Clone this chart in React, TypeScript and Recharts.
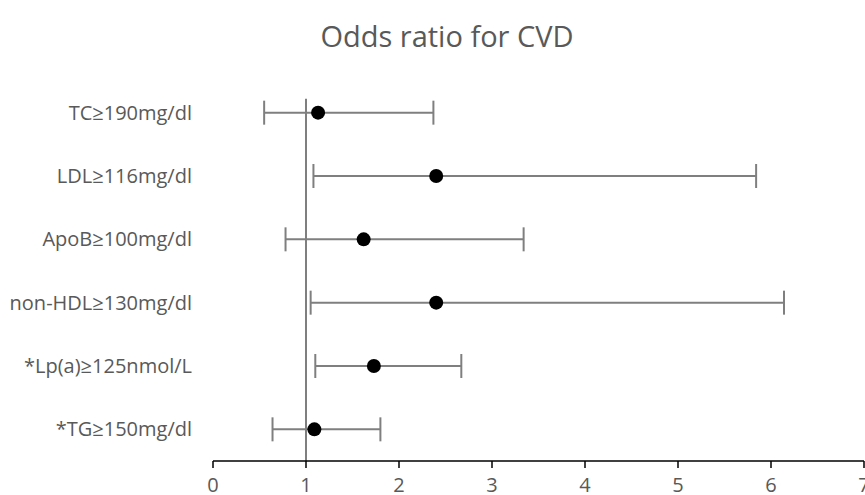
import React from 'react';
import { ScatterChart, Scatter, XAxis, YAxis, ErrorBar, ReferenceLine } from 'recharts';

const categories = [
  'TC≥190mg/dl',
  'LDL≥116mg/dl',
  'ApoB≥100mg/dl',
  'non-HDL≥130mg/dl',
  '*Lp(a)≥125nmol/L',
  '*TG≥150mg/dl',
];
const oddsRatio = [1.13, 2.4, 1.62, 2.4, 1.73, 1.09];
const lowerCI = [0.55, 1.08, 0.78, 1.05, 1.1, 0.64];
const upperCI = [2.37, 5.84, 3.34, 6.14, 2.67, 1.8];
const xTicks = [0, 1, 2, 3, 4, 5, 6, 7];

const n = categories.length;
const data = categories.map((c, i) => ({
  name: c,
  x: oddsRatio[i],
  y: n - i - 0.5,
  err: [oddsRatio[i] - lowerCI[i], upperCI[i] - oddsRatio[i]],
}));
const yTicks = data.map((d) => d.y);
const labelFor = (v: number) => {
  const d = data.find((e) => Math.abs(e.y - v) < 1e-6);
  return d ? d.name : '';
};

const FONT = '"Open Sans", sans-serif';
const TEXT = '#595959';

const Dot = (props: any) => {
  const { cx, cy } = props;
  if (cx == null || cy == null) return null;
  return <circle cx={cx} cy={cy} r={7} fill="#000" />;
};

export default function App() {
  return (
    <div style={{ position: 'absolute', left: 0, top: 0, width: 865, height: 495, background: '#fff', fontFamily: FONT }}>
      <div
        style={{
          position: 'absolute',
          left: 0,
          width: 894,
          top: 16,
          lineHeight: '40px',
          textAlign: 'center',
          fontSize: 29,
          color: TEXT,
          fontFamily: FONT,
        }}
      >
        Odds ratio for CVD
      </div>
      <ScatterChart width={865} height={495} margin={{ top: 81, right: 1, bottom: 0, left: 0 }}>
        <XAxis
          type="number"
          dataKey="x"
          domain={[0, 7]}
          ticks={xTicks}
          interval={0}
          allowDataOverflow
          height={34}
          axisLine={{ stroke: '#000', strokeWidth: 1.5 }}
          tickLine={{ stroke: '#000', strokeWidth: 1.5 }}
          tickSize={7}
          tickMargin={10}
          tick={{ fill: TEXT, fontSize: 20, fontFamily: FONT }}
        />
        <YAxis
          type="number"
          dataKey="y"
          domain={[0, 6]}
          ticks={yTicks}
          interval={0}
          width={213}
          axisLine={false}
          tickLine={false}
          tickSize={0}
          tickMargin={21}
          tickFormatter={labelFor}
          tick={{ fill: TEXT, fontSize: 20, fontFamily: FONT }}
        />
        <ReferenceLine
          segment={[
            { x: 1, y: 0 },
            { x: 1, y: 5.72 },
          ]}
          stroke="#7f7f7f"
          strokeWidth={2}
          ifOverflow="visible"
        />
        <Scatter data={data} isAnimationActive={false} shape={<Dot />}>
          <ErrorBar dataKey="err" direction="x" width={12} stroke="#7f7f7f" strokeWidth={2} />
        </Scatter>
      </ScatterChart>
    </div>
  );
}
